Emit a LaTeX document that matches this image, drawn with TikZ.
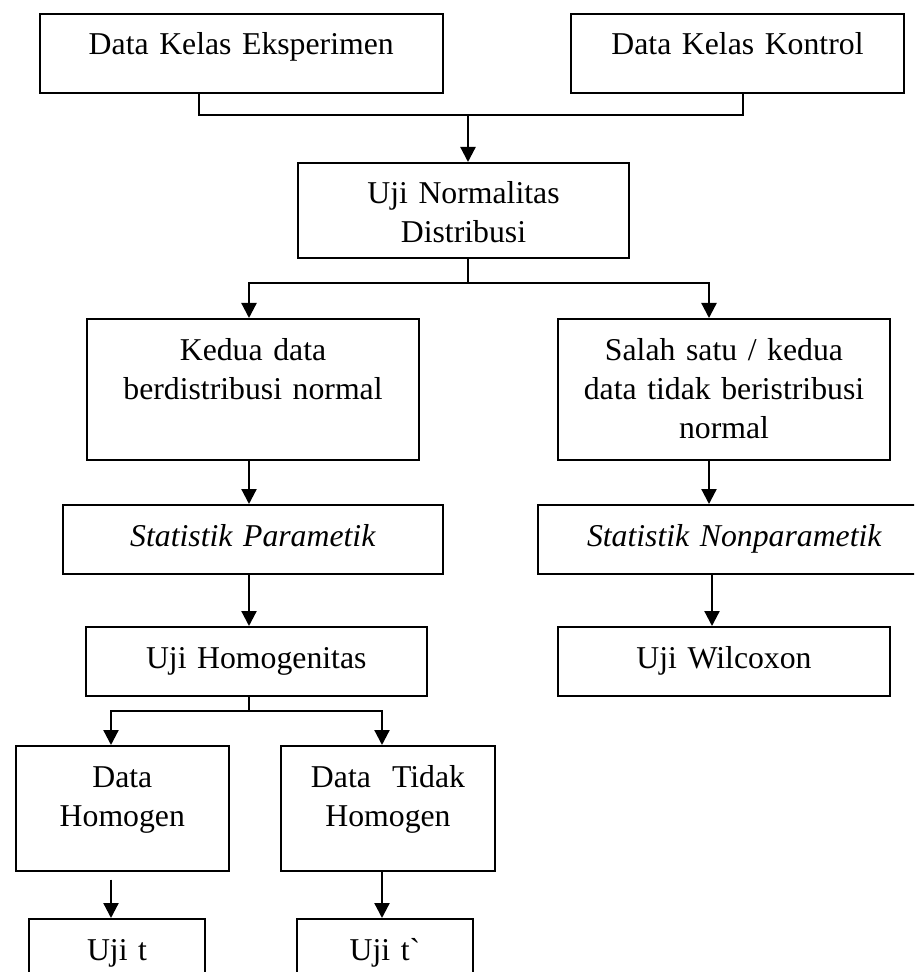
\documentclass[tikz,border=0pt]{standalone}
\usepackage{fontspec}
\setmainfont{Liberation Serif}[Ligatures=TeXOff]
\usepackage{tikz}
\usetikzlibrary{arrows.meta}

\begin{document}
\begin{tikzpicture}[
    x=0.4pt, y=-0.4pt,
    every node/.style={font=\fontsize{12.7}{15.6}\selectfont, align=center},
    kotak/.style={draw, line width=0.8pt, anchor=north west, inner sep=0pt,
                 text height=16.4pt},
    garis/.style={line width=0.9pt},
    panah/.style={line width=0.9pt, -{Triangle[length=6pt, width=6pt]}}
]
\useasboundingbox (0,0) rectangle (914,972);
\clip (0,0) rectangle (914,972);
% kotak-kotak
\node[kotak, text width=161.4pt, text depth=15.2pt] (eks) at (38.5,13) {Data Kelas Eksperimen};
\node[kotak, text width=133.2pt, text depth=15.2pt] (kon) at (570,13) {Data Kelas Kontrol};
\node[kotak, text width=132.4pt, text depth=21.6pt] (norm) at (297,162) {Uji Normalitas\\Distribusi};
\node[kotak, text width=132.8pt, text depth=40pt] (kedua) at (86,318) {Kedua data\\berdistribusi normal};
\node[kotak, text width=132.8pt, text depth=40pt] (salah) at (557,318) {Salah satu / kedua\\data tidak beristribusi\\normal};
\node[kotak, text width=152pt, text depth=11.2pt] (param) at (62,504) {\textit{Statistik Parametik}};
\node[kotak, text width=157.2pt, text depth=11.2pt] (nonparam) at (537,504) {\textit{Statistik Nonparametik}};
\node[kotak, text width=136.6pt, text depth=11.2pt] (homog) at (84.5,626) {Uji Homogenitas};
\node[kotak, text width=132.8pt, text depth=11.2pt] (wilc) at (557,626) {Uji Wilcoxon};
\node[kotak, text width=85.4pt, text depth=33.6pt] (hom) at (14.6,745) {Data\\Homogen};
\node[kotak, text width=85.6pt, text depth=33.6pt] (tdkhom) at (280,745) {Data\ \ Tidak\\Homogen};
\node[kotak, text width=70.4pt, text depth=12.4pt] (ujit) at (28,918) {Uji t};
\node[kotak, text width=70.4pt, text depth=12.4pt] (ujitt) at (296,918) {Uji t`};
% titik cabang
\coordinate (cabang1) at (468,115);
\coordinate (cabang2) at (468,283);
\coordinate (cabang3) at (249,711);
% garis dan panah
\draw[garis] (eks.south -| 199,0) |- (cabang1) -| (kon.south -| 743,0);
\draw[panah] (cabang1) -- (norm.north -| cabang1);
\draw[garis] (norm.south -| cabang2) -- (cabang2);
\draw[panah] (cabang2) -| (kedua.north -| 249,0);
\draw[panah] (cabang2) -| (salah.north -| 709,0);
\draw[panah] (kedua.south -| 249,0) -- (param.north -| 249,0);
\draw[panah] (salah.south -| 709,0) -- (nonparam.north -| 709,0);
\draw[panah] (param.south -| 249,0) -- (homog.north -| 249,0);
\draw[panah] (nonparam.south -| 712,0) -- (wilc.north -| 712,0);
\draw[garis] (homog.south -| cabang3) -- (cabang3);
\draw[panah] (cabang3) -| (hom.north -| 111,0);
\draw[panah] (cabang3) -| (tdkhom.north -| 382,0);
\draw[panah, shorten <=3pt] (hom.south -| 111,0) -- (ujit.north -| 111,0);
\draw[panah] (tdkhom.south -| 382,0) -- (ujitt.north -| 382,0);
\end{tikzpicture}
\end{document}
